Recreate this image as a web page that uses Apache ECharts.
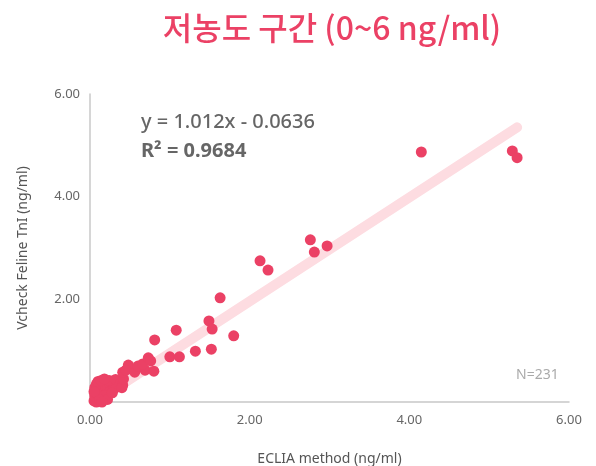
<!DOCTYPE html>
<html>
<head>
<meta charset="utf-8">
<script src="https://cdn.jsdelivr.net/npm/echarts@6/dist/echarts.min.js"></script>
<style>
  html, body { margin: 0; padding: 0; background: #fff; }
  #chart { width: 596px; height: 466px; }
</style>
</head>
<body>
<div id="chart"></div>
<script>
// ECLIA (x) vs Vcheck (y), ng/ml
var pointsX = [
  0.05, 0.07, 0.08, 0.10, 0.06, 0.09, 0.12, 0.08, 0.10, 0.12, 0.15, 0.18, 0.20, 0.14, 0.16, 0.20,
  0.22, 0.25, 0.28, 0.30, 0.25, 0.18, 0.12, 0.06, 0.08, 0.10, 0.14, 0.30, 0.22, 0.15, 0.35, 0.33,
  0.08, 0.12, 0.24, 0.32, 0.38, 0.18, 0.28, 0.05,
  0.41, 0.40, 0.42, 0.48, 0.41, 0.45, 0.56, 0.69, 0.60, 0.66, 0.73, 0.80, 0.76,
  0.81, 1.00, 1.12, 1.08, 1.32, 1.52, 1.49, 1.53, 1.80, 1.63,
  2.13, 2.23, 2.76, 2.81, 2.97, 4.15, 5.29, 5.35
];
var pointsY = [
  0.02, 0.05, 0.00, 0.08, 0.12, 0.15, 0.10, 0.20, 0.25, 0.30, 0.35, 0.38, 0.40, 0.18, 0.22, 0.15,
  0.28, 0.35, 0.38, 0.33, 0.20, 0.12, 0.05, 0.28, 0.35, 0.40, 0.42, 0.25, 0.05, 0.00, 0.40, 0.30,
  -0.05, -0.02, 0.42, 0.44, 0.36, 0.45, 0.18, 0.20,
  0.33, 0.28, 0.45, 0.72, 0.58, 0.62, 0.58, 0.62, 0.70, 0.74, 0.86, 0.60, 0.80,
  1.21, 0.88, 0.88, 1.40, 0.99, 1.03, 1.58, 1.42, 1.29, 2.03,
  2.75, 2.57, 3.16, 2.92, 3.04, 4.87, 4.89, 4.76
];
var trendX = [0.08, 5.35];
var trendY = [0.02, 5.35];
var axisTicks = ['0.00', '2.00', '4.00', '6.00'];

var pink = '#EB4165';
var scatterData = pointsX.map(function (x, i) { return [x, pointsY[i]]; });
var trendData = trendX.map(function (x, i) { return [x, trendY[i]]; });

var chart = echarts.init(document.getElementById('chart'));
var option = {
  animation: false,
  title: {
    text: '저농도 구간 (0~6 ng/ml)',
    left: 327,
    top: 7,
    textAlign: 'center',
    textStyle: {
      color: pink,
      fontSize: 32,
      fontWeight: 500,
      fontFamily: 'Noto Sans CJK KR'
    }
  },
  grid: { left: 90, right: 27, top: 94, bottom: 64, outerBoundsMode: 'none' },
  xAxis: {
    type: 'value',
    min: 0, max: 6, interval: 2,
    name: 'ECLIA method (ng/ml)',
    nameLocation: 'middle',
    nameGap: 50,
    nameTextStyle: { color: '#555', fontSize: 14, fontFamily: 'Noto Sans' },
    axisLine: { show: true, lineStyle: { color: '#c8c8c8', width: 1.5 } },
    axisTick: { show: false },
    splitLine: { show: false },
    axisLabel: {
      color: '#666', fontSize: 13, margin: 12, fontFamily: 'Noto Sans',
      formatter: function (v) { return axisTicks[v / 2]; }
    }
  },
  yAxis: {
    type: 'value',
    min: 0, max: 6, interval: 2,
    name: 'Vcheck Feline TnI (ng/ml)',
    nameLocation: 'middle',
    nameGap: 60,
    nameTextStyle: { color: '#555', fontSize: 14, fontFamily: 'Noto Sans' },
    axisLine: { show: true, lineStyle: { color: '#c8c8c8', width: 1.5 } },
    axisTick: { show: false },
    splitLine: { show: false },
    axisLabel: {
      color: '#666', fontSize: 13, margin: 10, fontFamily: 'Noto Sans',
      showMinLabel: false,
      formatter: function (v) { return axisTicks[v / 2]; }
    }
  },
  series: [
    {
      type: 'line',
      data: trendData,
      symbol: 'none',
      lineStyle: { color: '#FDDCE1', width: 10, cap: 'round' },
      z: 1
    },
    {
      type: 'scatter',
      data: scatterData,
      symbolSize: 11,
      itemStyle: { color: pink, opacity: 1 },
      z: 2
    }
  ],
  graphic: [
    {
      type: 'text', left: 141, top: 112,
      style: { text: 'y = 1.012x - 0.0636', fill: '#666', font: '500 20px "Noto Sans"' }
    },
    {
      type: 'text', left: 141, top: 141,
      style: { text: 'R² = 0.9684', fill: '#666', font: 'bold 20px "Noto Sans"' }
    },
    {
      type: 'text', left: 516, top: 368,
      style: { text: 'N=231', fill: '#aaa', font: '14px "Noto Sans"' }
    }
  ]
};
chart.setOption(option);
</script>
</body>
</html>
